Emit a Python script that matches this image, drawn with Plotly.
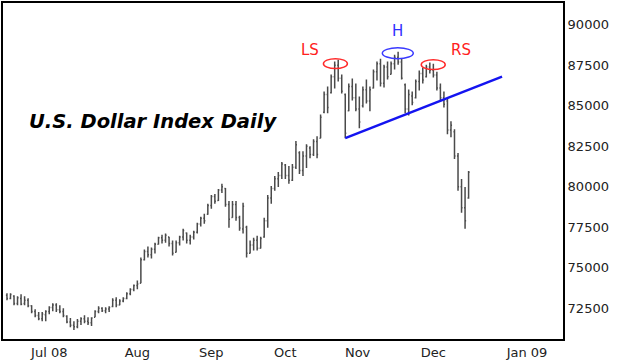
import pandas as pd
import plotly.graph_objects as go

# ---------------- data ----------------
holidays = ["2008-07-04", "2008-09-01", "2008-11-27"]
dates = [d for d in pd.bdate_range("2008-06-16", "2008-12-19")
         if d.strftime("%Y-%m-%d") not in holidays]

opens = [73300, 73100, 73250, 72800, 73100, 72800, 73000, 72650, 72300, 72050,
         71850, 72100, 72300, 72550, 72700, 72400, 72300, 72000, 71650, 71450,
         71350, 71700, 71850, 71700, 71600, 71950, 72300, 72500, 72350, 72450,
         72600, 73000, 72700, 72950, 73100, 73400, 73650, 73900, 74050, 75500,
         76000, 75800, 76150, 76450, 76850, 76700, 76900, 76500, 75950, 76550,
         76900, 77150, 76700, 76900, 77200, 77700, 78050, 78300, 78850, 79400,
         79150, 79800, 79900, 78900, 78100, 78900, 78100, 77400, 77500, 75900,
         76400, 76700, 76200, 76900, 77900, 79300, 79900, 80500, 80700, 81350,
         80700, 80400, 81200, 82100, 81000, 81900, 82400, 82000, 82800, 83000,
         84600, 85700, 85800, 86800, 87500, 86700, 85700, 84700, 86200, 85500,
         84800, 85000, 86000, 85300, 86100, 87100, 87600, 86400, 87400, 86950,
         87600, 88000, 87700, 86300, 84800, 85600, 85500, 86500, 87000, 86800,
         87400, 87200, 86900, 86100, 85500, 85300, 83500, 83400, 81900, 80000,
         78700, 79300]
highs = [73420, 73420, 73300, 73240, 73360, 73240, 73120, 72690, 72440, 72260,
         72260, 72380, 72620, 72810, 72810, 72690, 72500, 72070, 71890, 71700,
         71830, 71950, 72070, 71950, 71950, 72380, 72620, 72560, 72560, 72620,
         73120, 73180, 73050, 73180, 73480, 73730, 73970, 74220, 75630, 76120,
         76310, 76250, 76550, 76920, 77040, 77110, 76920, 76680, 76680, 76980,
         77410, 77170, 77040, 77290, 77780, 78150, 78330, 78950, 79500, 79560,
         79870, 80180, 79930, 79130, 79130, 79130, 78210, 79010, 77600, 76680,
         76860, 76980, 76920, 78090, 79500, 80050, 80670, 80910, 81530, 81400,
         81280, 81400, 82820, 82200, 82200, 82630, 82510, 82940, 83120, 84470,
         85890, 86190, 86930, 87730, 87850, 86930, 85760, 86380, 86680, 86380,
         85580, 86190, 86620, 86190, 87240, 87730, 87910, 87540, 87730, 87730,
         88160, 88340, 87910, 86380, 86010, 85890, 86620, 87180, 87360, 87540,
         87670, 87600, 87110, 86380, 85890, 85460, 84040, 83550, 82080, 80480,
         79990, 80970]
lows = [72990, 73050, 72690, 72690, 72690, 72690, 72560, 72190, 71950, 71760,
        71700, 71700, 72130, 72320, 72260, 72190, 71950, 71580, 71330, 71150,
        71270, 71460, 71580, 71460, 71400, 71950, 72190, 72260, 72190, 72260,
        72560, 72560, 72690, 72870, 73050, 73300, 73550, 73670, 74040, 75450,
        75630, 75570, 75880, 76430, 76490, 76550, 76310, 75760, 75940, 76370,
        76680, 76490, 76430, 76740, 77110, 77540, 77720, 78270, 78640, 78950,
        79130, 79620, 78760, 77470, 78090, 77900, 77290, 77110, 75630, 75880,
        76060, 76060, 76190, 76860, 77470, 78950, 79750, 79990, 80480, 80480,
        80180, 80360, 81100, 80790, 80670, 81160, 81770, 81900, 81770, 83000,
        84540, 84540, 85760, 86070, 86500, 85760, 83000, 84660, 85330, 84660,
        83610, 84900, 85150, 84660, 86070, 86560, 86190, 86130, 86620, 86930,
        87240, 87540, 86620, 84540, 84410, 85030, 85460, 85950, 86380, 86750,
        86990, 86750, 85950, 85270, 84900, 83250, 83060, 81710, 79750, 78400,
        77410, 79260]
closes = [73100, 73350, 72800, 73150, 72750, 73000, 72650, 72300, 72050, 71850,
          72150, 72300, 72550, 72700, 72400, 72300, 72050, 71650, 71450, 71350,
          71700, 71850, 71700, 71600, 71900, 72300, 72500, 72350, 72450, 72550,
          73000, 72700, 72950, 73100, 73400, 73650, 73900, 74000, 75500, 76000,
          75800, 76150, 76450, 76850, 76700, 77000, 76500, 75900, 76550, 76900,
          77300, 76700, 76900, 77200, 77700, 78050, 77900, 78850, 79400, 79100,
          79800, 80000, 78900, 78000, 78900, 78100, 77450, 78800, 75900, 76400,
          76700, 76200, 76800, 77900, 79300, 79900, 80500, 80700, 81400, 80700,
          80400, 81200, 82600, 81000, 81900, 82500, 82000, 82800, 82000, 84300,
          85700, 84900, 86800, 87500, 86700, 85900, 83300, 86200, 85500, 84800,
          84000, 86000, 85300, 86000, 87100, 87600, 86400, 87400, 86800, 87600,
          88000, 87700, 86700, 84800, 85700, 85200, 86500, 87000, 86600, 87400,
          87200, 86900, 86100, 85500, 85100, 83500, 83800, 81900, 80000, 78700,
          77900, 80900]

# neckline of the head-and-shoulders pattern
neck_x = ["2008-10-30", "2009-01-01 12:00"]
neck_y = [83000, 86800]

y_ticks = [72500, 75000, 77500, 80000, 82500, 85000, 87500, 90000]
x_tick_dates = ["2008-07-02", "2008-08-07", "2008-09-08", "2008-10-07",
                "2008-11-04 12:00", "2008-12-05", "2009-01-12 14:00"]
x_tick_text = ["Jul 08", "Aug", "Sep", "Oct", "Nov", "Dec", "Jan 09"]

# ---------------- figure ----------------
fig = go.Figure()
fig.add_trace(go.Ohlc(
    x=dates, open=opens, high=highs, low=lows, close=closes,
    increasing=dict(line=dict(color="#4a4a4a", width=1.5)),
    decreasing=dict(line=dict(color="#4a4a4a", width=1.5)),
    tickwidth=0.3, showlegend=False,
))
fig.add_trace(go.Scatter(
    x=neck_x, y=neck_y, mode="lines",
    line=dict(color="#1414f0", width=2.5), hoverinfo="skip", showlegend=False,
))

font_main = "DejaVu Sans, Verdana, sans-serif"

# plot area pixel helpers (plot area: x 2..563, y 1..339)
def px(x):
    return (x - 2) / 561.0

def py(y):
    return (339 - y) / 338.0

shapes = [
    dict(type="circle", xref="paper", yref="paper",
         x0=px(323), x1=px(347), y0=py(67), y1=py(57),
         line=dict(color="#ff2a2a", width=1.5)),
    dict(type="circle", xref="paper", yref="paper",
         x0=px(382), x1=px(413), y0=py(57), y1=py(46),
         line=dict(color="#3a3aff", width=1.5)),
    dict(type="circle", xref="paper", yref="paper",
         x0=px(421), x1=px(445), y0=py(68), y1=py(58),
         line=dict(color="#ff2a2a", width=1.5)),
]

annotations = [
    dict(text="<b><i>U.S. Dollar Index Daily</i></b>", xref="paper", yref="paper",
         x=px(26), y=py(120), xanchor="left", yanchor="middle", showarrow=False,
         font=dict(family=font_main, size=19.5, color="#000000")),
    dict(text="LS", xref="paper", yref="paper", x=px(310), y=py(48),
         xanchor="center", yanchor="middle", showarrow=False,
         font=dict(family=font_main, size=15, color="#ff2020")),
    dict(text="H", xref="paper", yref="paper", x=px(397), y=py(29),
         xanchor="center", yanchor="middle", showarrow=False,
         font=dict(family=font_main, size=15, color="#3030ff")),
    dict(text="RS", xref="paper", yref="paper", x=px(460.5), y=py(48),
         xanchor="center", yanchor="middle", showarrow=False,
         font=dict(family=font_main, size=15, color="#ff2020")),
]

fig.update_layout(
    width=620, height=363,
    margin=dict(l=2, r=57, t=1, b=24),
    plot_bgcolor="white", paper_bgcolor="white",
    showlegend=False,
    shapes=shapes, annotations=annotations,
    font=dict(family=font_main, size=13, color="#222222"),
    xaxis=dict(
        type="date",
        range=["2008-06-12 21:00", "2009-01-26 19:00"],
        rangebreaks=[dict(bounds=["sat", "mon"]), dict(values=holidays)],
        rangeslider=dict(visible=False),
        tickmode="array", tickvals=x_tick_dates, ticktext=x_tick_text,
        showgrid=False, zeroline=False, ticks="",
        showline=True, mirror=True, linecolor="#000000", linewidth=2,
        tickfont=dict(family=font_main, size=13, color="#222222"),
    ),
    yaxis=dict(
        side="right",
        range=[70600, 91350],
        tickmode="array", tickvals=y_ticks,
        ticktext=[str(v) for v in y_ticks],
        showgrid=False, zeroline=False, ticks="",
        showline=True, mirror=True, linecolor="#000000", linewidth=2,
        tickfont=dict(family=font_main, size=13, color="#222222"),
    ),
)

fig.write_html(
    "out.html",
    config={"displayModeBar": False},
    post_script="document.body.style.margin='0px';document.body.style.padding='0px';"
                "document.body.style.overflow='hidden';",
)
